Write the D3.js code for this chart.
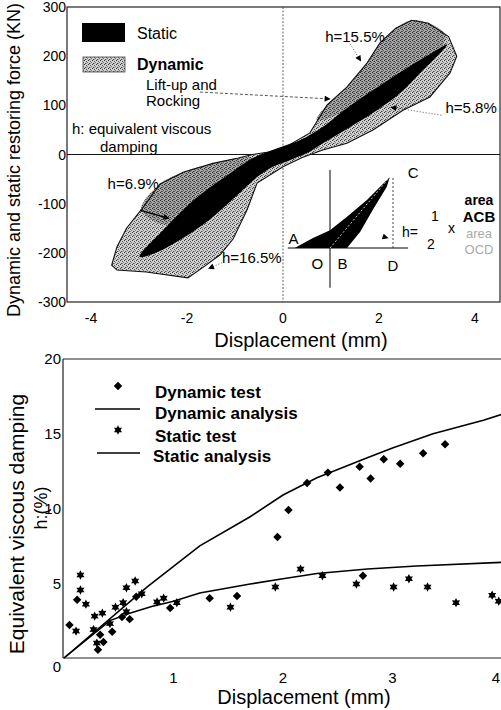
<!DOCTYPE html>
<html><head><meta charset="utf-8">
<script src="https://cdn.jsdelivr.net/npm/d3@7"></script>
<style>body{margin:0;background:#fff}svg{display:block}text{font-family:"Liberation Sans",Arial,sans-serif}</style>
</head><body>
<script>
// ---------- Top chart data ----------
const topXTicks = [-4,-2,0,2,4];
const topYTicks = [300,200,100,0,-100,-200,-300];
// dynamic hysteresis envelope [displacement mm, force kN]
const dynamicLoop = [[-3.57,-225],[-3.46,-188],[-3.26,-150],[-2.91,-107],[-2.56,-60],[-2.08,-36],[-1.46,-18],[-0.93,-7],[-0.64,0],[-0.3,5],[0,12],[0.56,44],[0.92,101],[1.33,137],[1.75,186],[2.02,227],[2.35,257],[2.68,273],[3.03,267],[3.45,240],[3.62,200],[3.48,166],[3.06,117],[2.5,90],[1.875,50],[1.33,23],[0.83,9],[0.4,-6],[0,-25],[-0.54,-58],[-0.75,-113],[-1.04,-172],[-1.31,-204],[-1.63,-227],[-1.98,-251],[-2.85,-239],[-3.46,-235]];
// darker speckled bands of the dynamic loops
const dynamicDarkUpper = [[0.7,70],[0.92,101],[1.33,137],[1.75,186],[2.02,227],[2.35,257],[2.68,273],[3.03,267],[3.38,244],[3.3,218],[2.58,176],[1.875,131],[1.19,84]];
const dynamicDarkLower = [[-2.95,-112],[-2.56,-60],[-2.08,-36],[-1.46,-18],[-0.93,-7],[-0.625,-7],[-1.10,-38],[-1.79,-87],[-2.4,-143]];
// static hysteresis loop
const staticLoop = [[-2.99,-208],[-2.5,-154],[-1.79,-87],[-1.10,-38],[-0.625,-7],[-0.06,15],[0.35,29],[0.83,56],[1.19,84],[1.875,131],[2.58,176],[3.125,208],[3.42,224],[3.33,212],[2.92,172],[2.44,125],[1.96,90],[1.40,56],[0.83,23],[0.5,3],[0.15,-11],[-0.21,-25],[-0.54,-46],[-0.9,-78],[-1.46,-127],[-2.15,-174],[-2.7,-202]];
// inset schematic loop (O = origin, D = 1, C height = 1)
const insetLoop = [[-0.56,0],[-0.27,0.14],[0,0.25],[0.27,0.44],[0.59,0.68],[0.95,1.0],[0.90,0.86],[0.68,0.54],[0.48,0.23],[0.27,0]];

// ---------- Bottom chart data ----------
const botXTicks = [1,2,3,4];
const botYTicks = [0,5,10,15,20];
const dynamicAnalysis = [[0,0],[0.76,4.75],[1.24,7.5],[1.7,9.45],[2.0,10.9],[2.31,12.05],[2.77,13.4],[3.0,14.05],[3.37,15.0],[3.83,15.9],[4.0,16.3]];
const staticAnalysis = [[0,0],[0.42,2.5],[0.6,3.0],[0.8,3.45],[1.0,3.8],[1.24,4.35],[1.7,4.95],[2.0,5.3],[2.31,5.65],[2.77,5.95],[3.22,6.15],[4.0,6.4]];
const dynamicTest = [[1.95,8.1],[2.05,9.9],[2.22,11.7],[2.41,12.4],[2.52,11.4],[2.70,12.8],[2.80,12.0],[2.92,13.3],[3.07,13.0],[3.28,13.7],[3.48,14.3],[0.12,3.9],[0.05,2.2],[0.33,1.55],[0.31,0.55],[0.36,1.07],[0.44,1.75],[0.53,2.75],[0.60,2.6],[0.66,4.1],[0.97,3.35],[1.33,4.0],[1.58,4.15],[2.73,5.5]];
const staticTest = [[0.15,5.55],[0.15,4.55],[0.20,3.6],[0.11,1.8],[0.28,2.8],[0.35,3.0],[0.27,1.9],[0.30,1.0],[0.42,2.3],[0.47,3.4],[0.54,3.7],[0.57,3.1],[0.57,4.7],[0.65,5.15],[0.71,4.3],[0.85,3.75],[0.91,4.0],[1.03,3.7],[1.52,3.4],[1.93,4.75],[2.16,5.95],[2.36,5.5],[2.67,4.95],[3.01,4.75],[3.15,5.3],[3.32,4.75],[3.58,3.7],[3.91,4.2],[3.97,3.8]];

const W = 501, H = 710;
const svg = d3.select("body").append("svg").attr("width",W).attr("height",H);
const defs = svg.append("defs");
function stipple(id,bg,dots){
  const p = defs.append("pattern").attr("id",id).attr("width",4).attr("height",4).attr("patternUnits","userSpaceOnUse");
  p.append("rect").attr("width",4).attr("height",4).attr("fill",bg);
  dots.forEach(q=>p.append("rect").attr("x",q[0]).attr("y",q[1]).attr("width",1).attr("height",1).attr("fill",q[2]));
}
stipple("stip","#d0d0d0",[[0,0,"#333"],[2,1,"#555"],[1,3,"#444"],[3,2,"#777"],[2,3,"#999"]]);
stipple("stipDark","#a8a8a8",[[0,0,"#222"],[2,1,"#333"],[1,3,"#3a3a3a"],[3,2,"#555"],[2,3,"#666"],[1,1,"#777"]]);
const mk = defs.append("marker").attr("id","ah").attr("viewBox","0 0 10 10").attr("refX",9).attr("refY",5)
  .attr("markerWidth",7).attr("markerHeight",6).attr("orient","auto").attr("markerUnits","userSpaceOnUse");
mk.append("path").attr("d","M0,0L10,5L0,10z").attr("fill","#000");

// ================= TOP CHART =================
const tL=67, tR=500, tT=7, tB=302;
const x1 = d3.scaleLinear().domain([-4,4]).range([91,475]);
const y1 = d3.scaleLinear().domain([-300,300]).range([tB,tT]);
const g1 = svg.append("g");
const poly = d3.line().x(d=>x1(d[0])).y(d=>y1(d[1])).curve(d3.curveLinearClosed);
const smooth = d3.line().x(d=>x1(d[0])).y(d=>y1(d[1])).curve(d3.curveCatmullRomClosed.alpha(0.5));

g1.append("rect").attr("x",tL).attr("y",tT).attr("width",tR-tL).attr("height",tB-tT).attr("fill","none").attr("stroke","#222").attr("stroke-width",1.2);
g1.append("line").attr("x1",tL).attr("x2",tR).attr("y1",y1(0)).attr("y2",y1(0)).attr("stroke","#111").attr("stroke-width",1.2);
g1.append("line").attr("x1",x1(0)).attr("x2",x1(0)).attr("y1",tT).attr("y2",tB).attr("stroke","#555").attr("stroke-width",0.9).attr("stroke-dasharray","2,1.5");

g1.append("path").attr("d",poly(dynamicLoop)).attr("fill","url(#stip)");
g1.append("path").attr("d",smooth(dynamicDarkUpper)).attr("fill","url(#stipDark)");
g1.append("path").attr("d",smooth(dynamicDarkLower)).attr("fill","url(#stipDark)");
g1.append("path").attr("d",poly(dynamicLoop)).attr("fill","none").attr("stroke","#111").attr("stroke-width",1.1);
g1.append("path").attr("d",smooth(staticLoop)).attr("fill","#000");

g1.selectAll(".yt").data(topYTicks).enter().append("text").attr("x",66).attr("y",d=>y1(d)).attr("dy","0.36em")
  .attr("text-anchor","end").attr("font-size",14).text(d=>d);
g1.selectAll(".xt").data(topXTicks).enter().append("text").attr("x",d=>x1(d)).attr("y",tB+21)
  .attr("text-anchor","middle").attr("font-size",14).text(d=>d);
g1.append("text").attr("x",301).attr("y",347).attr("text-anchor","middle").attr("font-size",20).text("Displacement (mm)");
g1.append("text").attr("transform","translate(20,160) rotate(-90)").attr("text-anchor","middle").attr("font-size",18).text("Dynamic and static restoring force (KN)");

// legend
g1.append("rect").attr("x",82).attr("y",23).attr("width",43).attr("height",19).attr("fill","#000");
g1.append("rect").attr("x",83).attr("y",57).attr("width",42).attr("height",15).attr("fill","url(#stip)").attr("stroke","#444").attr("stroke-width",0.8);
g1.append("text").attr("x",137).attr("y",39).attr("font-size",16).text("Static");
g1.append("text").attr("x",137).attr("y",70).attr("font-size",16).attr("font-weight","bold").text("Dynamic");
g1.append("text").attr("x",146).attr("y",90).attr("font-size",15).text("Lift-up and");
g1.append("text").attr("x",146).attr("y",106).attr("font-size",15).text("Rocking");
g1.append("text").attr("x",72).attr("y",134).attr("font-size",15).text("h: equivalent viscous");
g1.append("text").attr("x",100).attr("y",152).attr("font-size",15).text("damping");

function arrow(a,b,dash,w){
  g1.append("line").attr("x1",x1(a[0])).attr("y1",y1(a[1])).attr("x2",x1(b[0])).attr("y2",y1(b[1]))
   .attr("stroke",dash?"#444":"#000").attr("stroke-width",w||1).attr("stroke-dasharray",dash||null).attr("marker-end","url(#ah)");
}
arrow([-1.73,127],[0.98,113],"3,2",0.9);
arrow([1.40,225],[1.62,190],"1,2",0.9);
arrow([3.3,80],[2.25,96],"1,2",0.9);
arrow([-2.98,-113],[-2.38,-130],null,1.3);
arrow([-1.27,-220],[-1.55,-232],"1,2",0.9);
const ann = [["h=15.5%",1.5,240],["h=5.8%",3.92,95],["h=6.9%",-3.12,-60],["h=16.5%",-0.65,-210]];
g1.selectAll(".ann").data(ann).enter().append("text").attr("x",d=>x1(d[1])).attr("y",d=>y1(d[2])+5)
  .attr("font-size",15).attr("text-anchor","middle").text(d=>d[0]);

// inset
const ix = d3.scaleLinear().domain([0,1]).range([330,393]);
const iy = d3.scaleLinear().domain([0,1]).range([248,177]);
g1.append("path").attr("d",d3.line().x(d=>ix(d[0])).y(d=>iy(d[1])).curve(d3.curveLinearClosed)(insetLoop)).attr("fill","#000");
g1.append("line").attr("x1",ix(0)).attr("x2",ix(0)).attr("y1",iy(1.1)).attr("y2",iy(-0.56)).attr("stroke","#000").attr("stroke-width",1);
g1.append("line").attr("x1",ix(-0.67)).attr("x2",ix(1.24)).attr("y1",iy(0)).attr("y2",iy(0)).attr("stroke","#000").attr("stroke-width",1);
g1.append("line").attr("x1",ix(1)).attr("x2",ix(1)).attr("y1",iy(0)).attr("y2",iy(0.99)).attr("stroke","#333").attr("stroke-width",0.9).attr("stroke-dasharray","2,2");
g1.append("line").attr("x1",ix(0)).attr("x2",ix(0.95)).attr("y1",iy(0)).attr("y2",iy(1.0)).attr("stroke","#ddd").attr("stroke-width",0.9).attr("stroke-dasharray","2,2");
g1.append("line").attr("x1",ix(0.7)).attr("y1",iy(0.2)).attr("x2",ix(0.92)).attr("y2",iy(0.14)).attr("stroke","none").attr("marker-end","url(#ah)");
const insetLabels=[["A",-0.58,0.12],["O",-0.2,-0.22],["B",0.2,-0.22],["D",1.0,-0.25],["C",1.32,1.05]];
g1.selectAll(".il").data(insetLabels).enter().append("text").attr("x",d=>ix(d[1])).attr("y",d=>iy(d[2])+5)
  .attr("text-anchor","middle").attr("font-size",15).text(d=>d[0]);
g1.append("text").attr("x",402).attr("y",237).attr("font-size",14).text("h=");
g1.append("text").attr("x",435).attr("y",221).attr("text-anchor","middle").attr("font-size",14).text("1");
g1.append("text").attr("x",431).attr("y",249).attr("text-anchor","middle").attr("font-size",14).text("2");
g1.append("text").attr("x",448).attr("y",233).attr("font-size",14).text("x");
g1.append("text").attr("x",479).attr("y",205).attr("text-anchor","middle").attr("font-size",14).attr("font-weight","bold").text("area");
g1.append("text").attr("x",479).attr("y",222).attr("text-anchor","middle").attr("font-size",15).attr("font-weight","bold").text("ACB");
g1.append("text").attr("x",479).attr("y",238).attr("text-anchor","middle").attr("font-size",13).attr("fill","#aaa").text("area");
g1.append("text").attr("x",479).attr("y",254).attr("text-anchor","middle").attr("font-size",13).attr("fill","#aaa").text("OCD");

// ================= BOTTOM CHART =================
const bL=63, bR=501, bT=359, bB=658;
const x2 = d3.scaleLinear().domain([0,4]).range([64,502]);
const y2 = d3.scaleLinear().domain([0,20]).range([bB,bT]);
const g2 = svg.append("g");
g2.append("line").attr("x1",bL).attr("x2",bR).attr("y1",bT).attr("y2",bT).attr("stroke","#222").attr("stroke-width",1.2);
g2.append("line").attr("x1",bL).attr("x2",bR).attr("y1",bB).attr("y2",bB).attr("stroke","#222").attr("stroke-width",1.2);
g2.append("line").attr("x1",bL).attr("x2",bL).attr("y1",bT).attr("y2",bB).attr("stroke","#222").attr("stroke-width",1.2);
g2.selectAll(".yt").data(botYTicks).enter().append("text").attr("x",61).attr("y",d=>y2(d)+(d===0?9:0)).attr("dy","0.36em")
  .attr("text-anchor","end").attr("font-size",15).text(d=>d);
g2.selectAll(".xt").data(botXTicks).enter().append("text").attr("x",d=>Math.min(x2(d),496)).attr("y",683)
  .attr("text-anchor","middle").attr("font-size",15).text(d=>d);
g2.append("text").attr("x",304).attr("y",704).attr("text-anchor","middle").attr("font-size",20).text("Displacement (mm)");
g2.append("text").attr("transform","translate(24,524) rotate(-90)").attr("text-anchor","middle").attr("font-size",21).text("Equivalent viscous damping");
g2.append("text").attr("transform","translate(47,508) rotate(-90)").attr("text-anchor","middle").attr("font-size",18).text("h:(%)");

const line2 = d3.line().x(d=>x2(d[0])).y(d=>y2(d[1]));
g2.append("path").attr("d",line2(dynamicAnalysis)).attr("fill","none").attr("stroke","#000").attr("stroke-width",1.6);
g2.append("path").attr("d",line2(staticAnalysis)).attr("fill","none").attr("stroke","#000").attr("stroke-width",1.6);
const star6 = {draw(ctx,size){const r=Math.sqrt(size/2.3), ri=r*0.55;
  for(let i=0;i<12;i++){const a=i*Math.PI/6-Math.PI/2, rr=i%2?ri:r, px=rr*Math.cos(a), py=rr*Math.sin(a); i?ctx.lineTo(px,py):ctx.moveTo(px,py);} ctx.closePath();}};
const diamond = d3.symbol().type(d3.symbolSquare).size(36);
const star = d3.symbol().type(star6).size(50);
g2.selectAll(".dt").data(dynamicTest).enter().append("path").attr("d",diamond)
  .attr("transform",d=>`translate(${x2(d[0])},${y2(d[1])}) rotate(45)`).attr("fill","#000");
g2.selectAll(".st").data(staticTest).enter().append("path").attr("d",star)
  .attr("transform",d=>`translate(${x2(d[0])},${y2(d[1])})`).attr("fill","#000");

// legend
g2.append("path").attr("d",diamond).attr("transform","translate(118,386) rotate(45)").attr("fill","#000");
g2.append("line").attr("x1",95).attr("x2",140).attr("y1",409).attr("y2",409).attr("stroke","#000").attr("stroke-width",1.3);
g2.append("path").attr("d",star).attr("transform","translate(118,430)").attr("fill","#000");
g2.append("line").attr("x1",97).attr("x2",140).attr("y1",453).attr("y2",453).attr("stroke","#000").attr("stroke-width",1.3);
const legTexts=[["Dynamic test",155,398],["Dynamic analysis",155,419],["Static test",155,442],["Static analysis",153,462]];
g2.selectAll(".lt").data(legTexts).enter().append("text").attr("x",d=>d[1]).attr("y",d=>d[2])
  .attr("font-size",17).attr("font-weight","bold").text(d=>d[0]);
</script>
</body></html>
